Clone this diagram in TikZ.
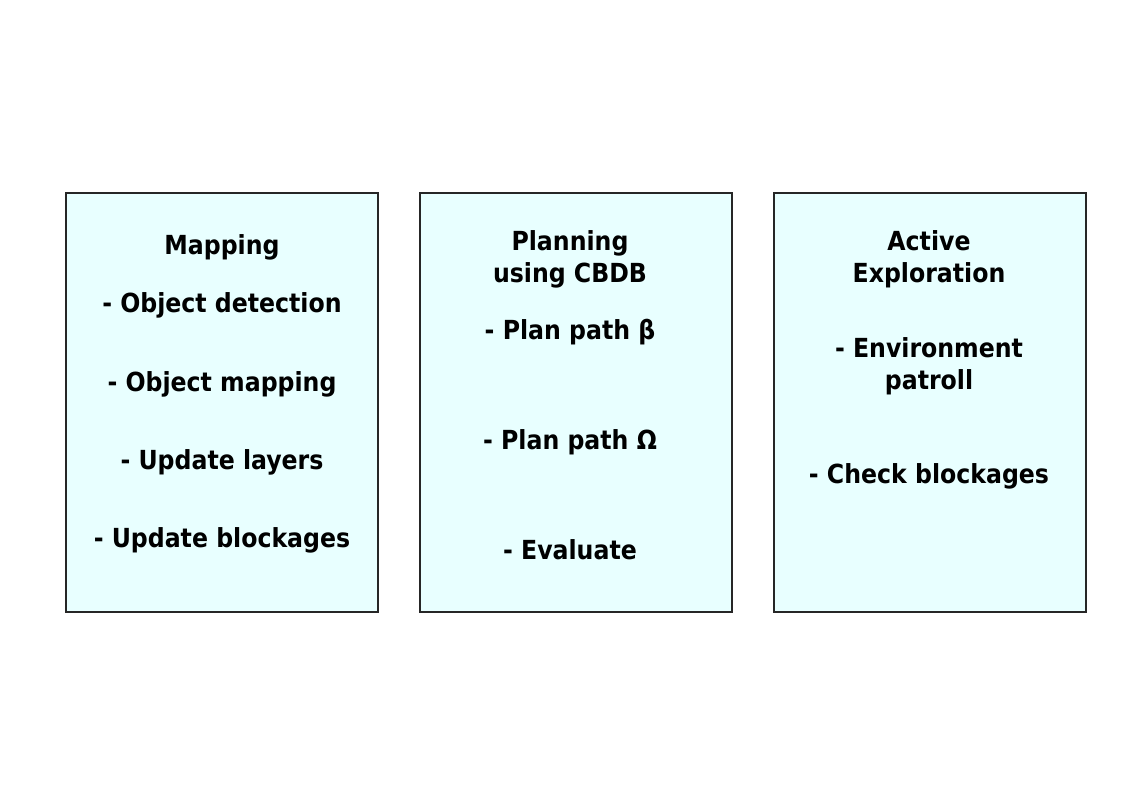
\documentclass[tikz,border=0pt]{standalone}
\usepackage{fontspec}
\setmainfont{DejaVu Sans Condensed}
\definecolor{panelfill}{HTML}{E8FFFF}
\tikzset{
  panel/.style={draw=black!85, line width=1pt, fill=panelfill, minimum width=234pt, minimum height=314.25pt, inner sep=0pt},
  item/.style={align=center, inner sep=0pt, font=\fontsize{19.7}{24}\selectfont\bfseries}
}
\begin{document}
\begin{tikzpicture}[x=0.75pt,y=-0.75pt]
  \useasboundingbox (0,0) rectangle (1123,794);
  % the three panels
  \node[panel] (mapbox) at (222,402.5) {};
  \node[panel] (planbox) at (576,402.5) {};
  \node[panel] (explbox) at (930,402.5) {};
  % mapping
  \node[item] (maptitle) at (222,247) {Mapping};
  \node[item] (detect) at (222,305) {- Object detection};
  \node[item] (objmap) at (222,384) {- Object mapping};
  \node[item] (layers) at (222,462) {- Update layers};
  \node[item] (blockupd) at (222,540) {- Update blockages};
  % planning
  \node[item] (plantitle) at (570,259) {Planning\\using CBDB};
  \node[item] (beta) at (570,332) {- Plan path β};
  \node[item] (omega) at (570,442) {- Plan path Ω};
  \node[item] (eval) at (570,550) {- Evaluate};
  % exploration
  \node[item] (expltitle) at (929,259) {Active\\Exploration};
  \node[item] (patrol) at (929,366) {- Environment\\patroll};
  \node[item] (blockchk) at (929,476) {- Check blockages};
\end{tikzpicture}
\end{document}
